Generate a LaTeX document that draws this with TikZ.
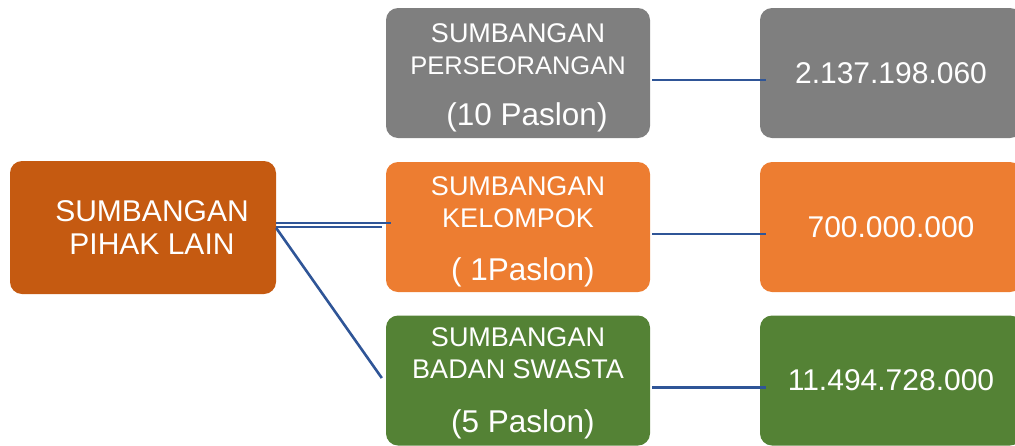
\documentclass[tikz,border=0pt]{standalone}
\usepackage{fontspec}
\setmainfont{Liberation Sans}
\usetikzlibrary{calc}
\definecolor{abu}{HTML}{7F7F7F}
\definecolor{oranye}{HTML}{ED7D31}
\definecolor{hijau}{HTML}{548235}
\definecolor{cokelat}{HTML}{C55A11}
\definecolor{garis}{HTML}{2F5597}

\begin{document}
\begin{tikzpicture}[x=1pt,y=-1pt,
    kotak/.style={rounded corners=12pt, inner sep=0pt, text=white, align=center,
        minimum height=130, font=\fontsize{27}{32}\selectfont},
    hubung/.style={draw=garis, line width=2.6pt}]

    \useasboundingbox (0,0) rectangle (1015,445);

    % kotak kiri
    \node[kotak, fill=cokelat, minimum width=266, minimum height=133,
        font=\fontsize{30}{33}\selectfont] (pihak) at (143,227.5)
        {\hspace*{18pt}SUMBANGAN\\\hspace*{18pt}PIHAK LAIN};

    % kotak tengah
    \node[kotak, fill=abu, minimum width=264] (orang) at (518,73)
        {\rule{0pt}{28pt}SUMBANGAN\\{\fontsize{25.5}{32}\selectfont PERSEORANGAN}\\[19pt]
        {\fontsize{31.5}{32}\selectfont\hspace*{18pt}(10 Paslon)}};
    \node[kotak, fill=oranye, minimum width=264] (kelompok) at (518,227)
        {\rule{0pt}{28pt}SUMBANGAN\\KELOMPOK\\[21pt]
        {\fontsize{31.5}{32}\selectfont\hspace*{10pt}( 1Paslon)}};
    \node[kotak, fill=hijau, minimum width=264] (swasta) at (518,380.5)
        {\rule{0pt}{25pt}SUMBANGAN\\BADAN SWASTA\\[22pt]
        {\fontsize{31.5}{32}\selectfont\hspace*{10pt}(5 Paslon)}};

    % kotak kanan
    \foreach \n/\t/\c/\y in {nilaiA/2.137.198.060/abu/73,
        nilaiB/700.000.000/oranye/227, nilaiC/11.494.728.000/hijau/380.5} {
    \node[kotak, fill=\c, minimum width=262, font=\fontsize{30}{32}\selectfont]
        (\n) at (891,\y) {\t};}

    % garis
    \draw[hubung] ($(pihak.east)+(0,-4.5)$) -- ($(kelompok.west)+(5,-4)$);
    \draw[hubung] ($(pihak.east)+(0,-0.5)$) -- ($(kelompok.west)+(-4,0)$);
    \draw[hubung] ($(pihak.east)+(0,0.5)$) -- ($(swasta.west)+(-4,-2.5)$);

    \foreach \a/\b in {orang/nilaiA, kelompok/nilaiB, swasta/nilaiC} {
    \draw[hubung] ($(\a.east)+(2,7)$) -- ($(\b.west)+(6,7)$);}

\end{tikzpicture}
\end{document}
